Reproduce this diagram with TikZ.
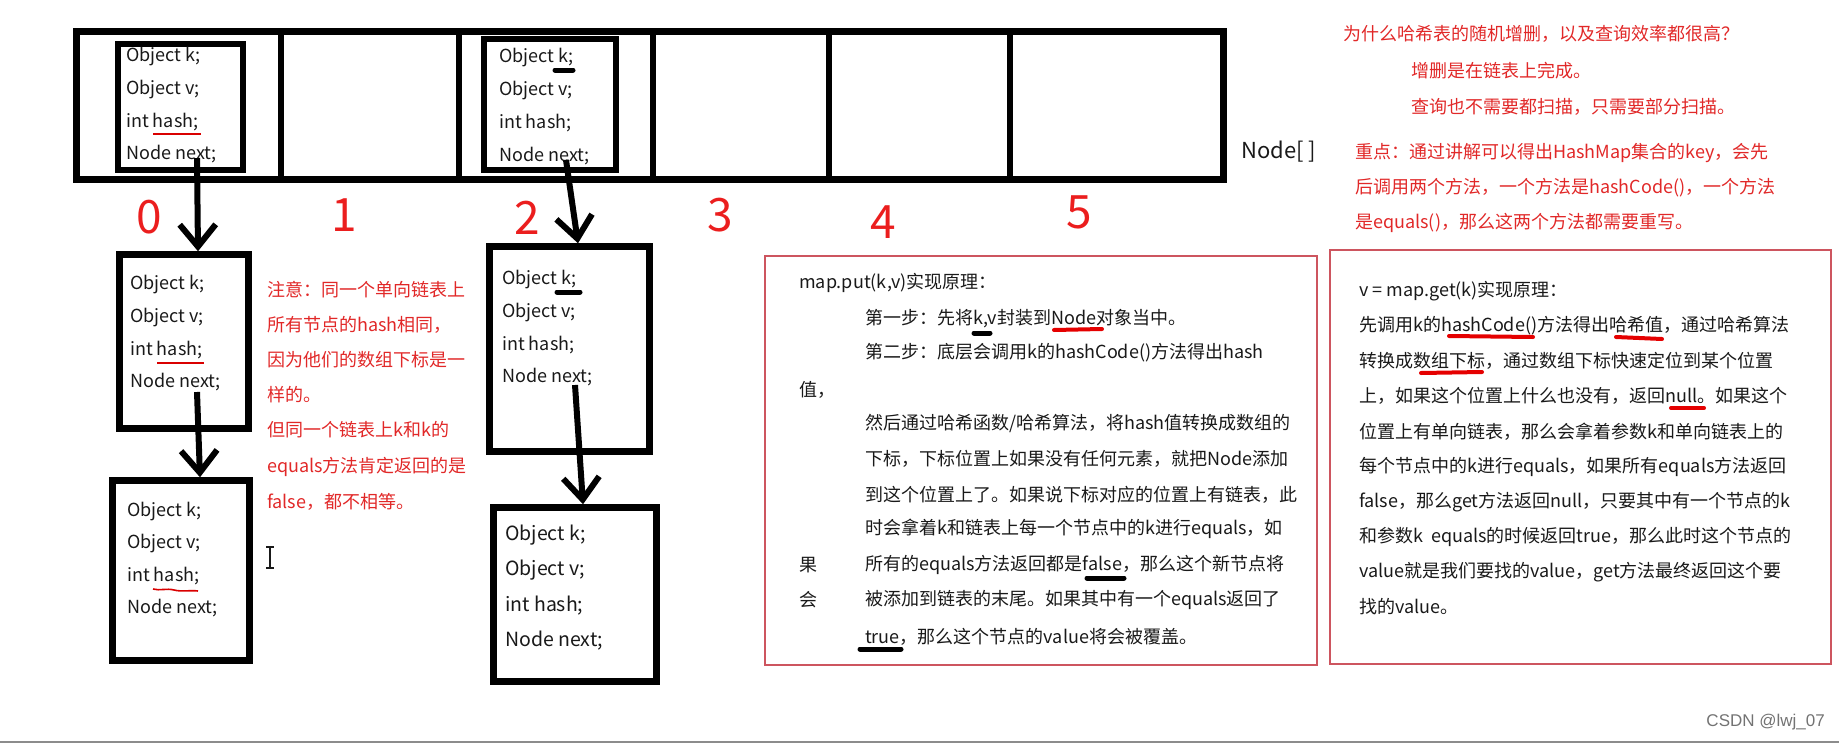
\documentclass[tikz,border=0pt]{standalone}
\usepackage{fontspec}
\newfontfamily\cjk{Noto Sans CJK SC}
\newfontfamily\arialf{Liberation Sans}
\usetikzlibrary{arrows.meta}
\definecolor{redtxt}{RGB}{225,40,40}
\definecolor{reddig}{RGB}{235,30,30}
\definecolor{boxred}{RGB}{205,85,95}
\definecolor{ink}{RGB}{25,25,25}
\begin{document}
\begin{tikzpicture}[x=1pt,y=-1pt,
  arraybox/.style={draw=black,line width=7pt,rectangle,inner sep=0},
  divider/.style={draw=black,line width=6pt},
  nodebox/.style={draw=black,line width=6.5pt,rectangle,inner sep=0},
  notebox/.style={draw=boxred,line width=1.8pt,rectangle,inner sep=0},
  code/.style={anchor=west,inner sep=0,font=\cjk\fontsize{18}{18}\selectfont,text=ink},
  bigcode/.style={code,font=\cjk\fontsize{19.5}{19.5}\selectfont},
  txt/.style={anchor=west,inner sep=0,font=\cjk\fontsize{18}{18}\selectfont,text=ink},
  note/.style={txt,text=redtxt},
  idx/.style={inner sep=0,font=\cjk\fontsize{46}{46}\selectfont,text=reddig},
  link/.style={draw=black,line width=6pt,-{Straight Barb[length=22pt,width=36pt]}},
  ulthin/.style={draw=red!85!black,line width=1.6pt},
  ulblack/.style={draw=black,line width=5pt,line cap=round},
  ulred/.style={draw=red!90!black,line width=4pt,line cap=round}]
\useasboundingbox (0,0) rectangle (1839,744);

% array
\node[arraybox,minimum width=1147pt,minimum height=148pt] (arr) at (650,105.5) {};
\foreach \x in {281,459,653,829,1010} \draw[divider] (\x,31.5) -- (\x,179.5);

% boxes
\node[nodebox,minimum width=125pt,minimum height=126pt] (N0) at (180.5,107) {};
\node[nodebox,minimum width=132pt,minimum height=131pt] (N2) at (550,104.5) {};
\node[nodebox,minimum width=129pt,minimum height=174pt] (A) at (184,341.5) {};
\node[nodebox,minimum width=137pt,minimum height=180pt] (B) at (181,570.5) {};
\node[nodebox,minimum width=160pt,minimum height=205pt] (C) at (569.5,349) {};
\node[nodebox,minimum width=163pt,minimum height=174pt] (D) at (575,594.5) {};

% box texts
\foreach \t [count=\i] in {Object k;,Object v;,int hash;,Node next;} {
  \node[code] (n0l\i) at (126,{57+32.3*(\i-1)}) {\t};
  \node[code] (n2l\i) at (499,{58+32.7*(\i-1)}) {\t};
  \node[code] (al\i) at (130,{285+32.3*(\i-1)}) {\t};
  \node[code] (bl\i) at (127,{512+32*(\i-1)}) {\t};
  \node[code] (cl\i) at (502,{280+32.3*(\i-1)}) {\t};
  \node[bigcode] (dl\i) at (505,{535+35.3*(\i-1)}) {\t};
}

% underlines in boxes
\draw[ulthin] (153,134) -- (201,134);
\draw[ulblack] (555,70) -- (573,70);
\draw[ulthin] (157,363) -- (204,363);
\draw[ulthin] (153,589) .. controls (160,591) and (166,588) .. (174,590) .. controls (182,592) and (190,590) .. (198,591);
\draw[ulblack] (557,292) -- (580,292);

% indices
\node[idx] (i0) at (149,217) {0};
\node[idx] (i1) at (344,215) {1};
\node[idx] (i2) at (527,218) {2};
\node[idx] (i3) at (720,215) {3};
\node[idx] (i4) at (883,222) {4};
\node[idx] (i5) at (1079,212) {5};

% links
\coordinate (s0) at (197,158);
\coordinate (e0) at (198,0);
\coordinate (s1) at (197,392);
\coordinate (e1) at (200,0);
\coordinate (s2) at (566,160);
\coordinate (e2) at (578,0);
\coordinate (s3) at (575,385);
\coordinate (e3) at (583,0);
\draw[link] (s0) -- (A.north -| e0);
\draw[link] (s1) -- (B.north -| e1);
\draw[link] (s2) -- (C.north -| e2);
\draw[link] (s3) -- (D.north -| e3);

% Node[] label
\node[anchor=west,inner sep=0,font=\cjk\fontsize{22}{22}\selectfont,text=ink] (lbl) at (1241,152) {Node[ ]};

% red note
\node[note] (r1) at (267,290) {注意：同一个单向链表上};
\node[note] (r2) at (267,325) {所有节点的hash相同，};
\node[note] (r3) at (267,360) {因为他们的数组下标是一};
\node[note] (r4) at (267,395) {样的。};
\node[note] (r5) at (267,430) {但同一个链表上k和k的};
\node[note] (r6) at (267,467) {equals方法肯定返回的是};
\node[note] (r7) at (267,502) {false，都不相等。};

% text cursor
\draw[draw=ink,line width=1.2pt] (266,547) -- (274,547) (270,547) -- (270,568) (266,568) -- (274,568);

% top right red text
\node[note] (q1) at (1343,34) {为什么哈希表的随机增删，以及查询效率都很高？};
\node[note] (q2) at (1411,71) {增删是在链表上完成。};
\node[note] (q3) at (1411,107) {查询也不需要都扫描，只需要部分扫描。};
\node[note] (k1) at (1355,153) {重点：通过讲解可以得出HashMap集合的key，会先};
\node[note] (k2) at (1355,188) {后调用两个方法，一个方法是hashCode()，一个方法};
\node[note] (k3) at (1355,223) {是equals()，那么这两个方法都需要重写。};

% put box
\node[notebox,minimum width=552pt,minimum height=409pt] (put) at (1041,460.5) {};
\node[txt] (p1) at (799,283) {map.put(k,v)实现原理：};
\node[txt] (p2) at (865,319) {第一步：先将k,v封装到Node对象当中。};
\node[txt] (p3) at (865,353) {第二步：底层会调用k的hashCode()方法得出hash};
\node[txt] (p4) at (799,390) {值，};
\node[txt] (p5) at (865,423) {然后通过哈希函数/哈希算法，将hash值转换成数组的};
\node[txt] (p6) at (865,459) {下标，下标位置上如果没有任何元素，就把Node添加};
\node[txt] (p7) at (865,495) {到这个位置上了。如果说下标对应的位置上有链表，此};
\node[txt] (p8) at (865,529) {时会拿着k和链表上每一个节点中的k进行equals，如};
\node[txt] (p9a) at (799,565) {果};
\node[txt] (p9) at (865,565) {所有的equals方法返回都是false，那么这个新节点将};
\node[txt] (p10a) at (799,600) {会};
\node[txt] (p10) at (865,600) {被添加到链表的末尾。如果其中有一个equals返回了};
\node[txt] (p11) at (865,637) {true，那么这个节点的value将会被覆盖。};
\draw[ulblack] (974,333) -- (990,333);
\draw[ulred] (1054,330) -- (1102,329);
\draw[ulblack] (1087,578) -- (1124,578);
\draw[ulblack] (860,649) -- (901,649);

% get box
\node[notebox,minimum width=501pt,minimum height=414pt] (get) at (1580.5,457) {};
\node[txt] (g1) at (1359,291) {v = map.get(k)实现原理：};
\node[txt] (g2) at (1359,326) {先调用k的hashCode()方法得出哈希值，通过哈希算法};
\node[txt] (g3) at (1359,361) {转换成数组下标，通过数组下标快速定位到某个位置};
\node[txt] (g4) at (1359,396) {上，如果这个位置上什么也没有，返回null。如果这个};
\node[txt] (g5) at (1359,432) {位置上有单向链表，那么会拿着参数k和单向链表上的};
\node[txt] (g6) at (1359,467) {每个节点中的k进行equals，如果所有equals方法返回};
\node[txt] (g7) at (1359,502) {false，那么get方法返回null，只要其中有一个节点的k};
\node[txt] (g8) at (1359,537) {和参数k~~equals的时候返回true，那么此时这个节点的};
\node[txt] (g9) at (1359,572) {value就是我们要找的value，get方法最终返回这个要};
\node[txt] (g10) at (1359,607) {找的value。};
\draw[ulred] (1449,336) -- (1533,337);
\draw[ulred] (1616,337) -- (1662,339);
\draw[ulred] (1421,373) -- (1482,372);
\draw[ulred] (1671,408) -- (1704,408);

% watermark and bottom line
\node[anchor=east,inner sep=0,font=\arialf\fontsize{17}{17}\selectfont,text=black!55] (wm) at (1825,722) {CSDN @lwj\_07};
\draw[black!45,line width=2pt] (0,742) -- (1839,742);
\end{tikzpicture}
\end{document}
